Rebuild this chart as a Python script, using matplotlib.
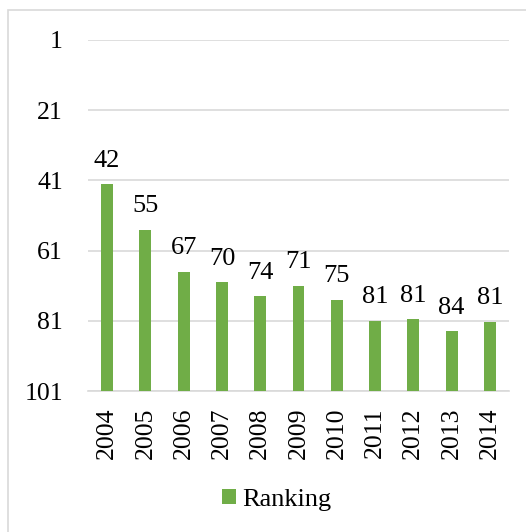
import matplotlib
matplotlib.use("Agg")
import matplotlib.pyplot as plt
from matplotlib.patches import Rectangle

years = ["2004", "2005", "2006", "2007", "2008", "2009", "2010", "2011", "2012", "2013", "2014"]
ranking = [42, 55, 67, 70, 74, 71, 75, 81, 80.6, 84, 81.3]
labels = ["42", "55", "67", "70", "74", "71", "75", "81", "81", "84", "81"]
yticks = [1, 21, 41, 61, 81, 101]

W, H = 526, 532
fig = plt.figure(figsize=(W / 100, H / 100), dpi=100)
plt.rcParams['font.family'] = ['Liberation Serif', 'DejaVu Serif']
fs = 18.5

# outer border
fig.patches.append(Rectangle((8 / W, -0.1), 1.2, 1 - 10 / H + 0.1, transform=fig.transFigure,
                             fill=False, edgecolor='#d9d9d9', linewidth=1.2))

ax = fig.add_axes([88 / W, 1 - 391 / H, (509 - 88) / W, (391 - 40) / H])
x = list(range(len(years)))
heights = [101 - v for v in ranking]
ax.bar(x, heights, bottom=ranking, width=0.31, color='#70ad47', label='Ranking', zorder=3)
ax.set_ylim(101, 1)
ax.set_xlim(-0.5, len(years) - 0.5)
ax.set_yticks(yticks)
ax.set_yticklabels([str(t) for t in yticks], fontsize=fs)
ax.set_xticks(x)
ax.set_xticklabels(years, rotation=90, fontsize=fs)
ax.tick_params(axis='both', length=0)
ax.tick_params(axis='y', pad=18)
ax.tick_params(axis='x', pad=12)
ax.grid(axis='y', color='#d9d9d9', linewidth=1.2, zorder=0)
for s in ['top', 'right', 'left']:
    ax.spines[s].set_visible(False)
ax.spines['bottom'].set_color('#d9d9d9')
ax.spines['bottom'].set_linewidth(1.2)

for xi, v, lab in zip(x, ranking, labels):
    ax.annotate(lab, xy=(xi, v), xytext=(0, 12.5), textcoords='offset points',
                ha='center', va='baseline', fontsize=19)

leg = fig.legend(loc='center', bbox_to_anchor=(277 / W, 1 - 500 / H), frameon=False,
                 fontsize=19, handlelength=0.52, handleheight=0.52, handletextpad=0.25)

fig.savefig('out.png', dpi=100)
